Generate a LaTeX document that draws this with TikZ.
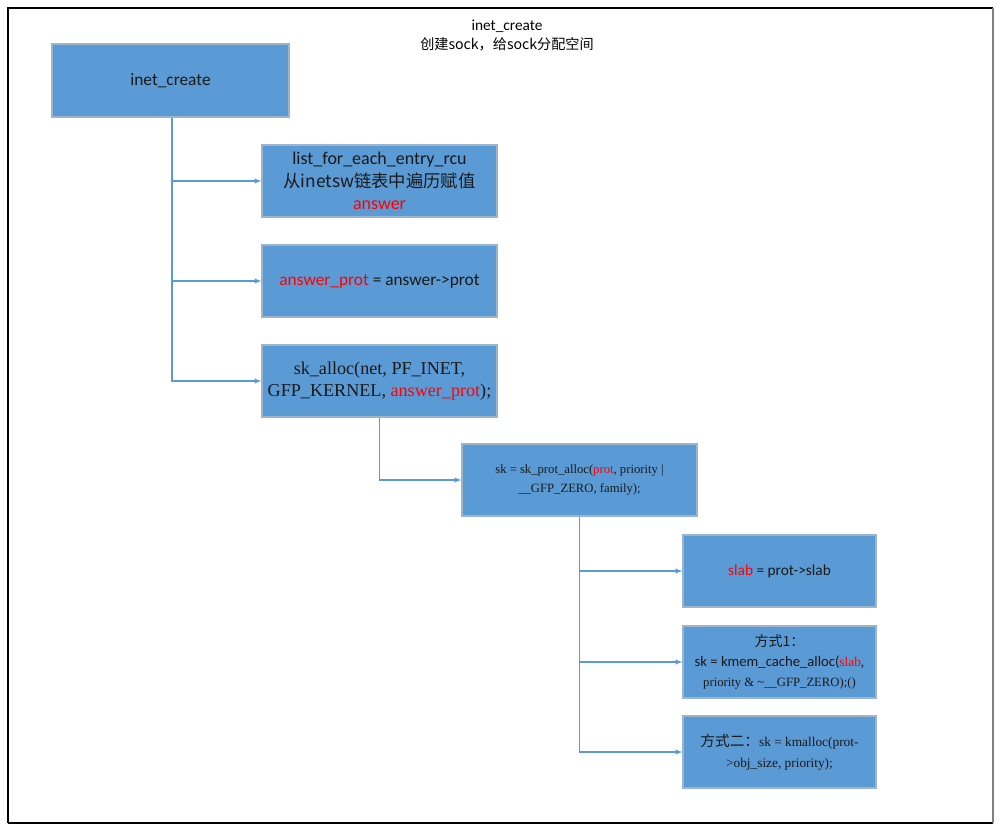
\documentclass[tikz,border=0pt]{standalone}
\usepackage{fontspec}
\setmainfont{Carlito}
\newfontfamily\timesf{Liberation Serif}
\newfontfamily\cjk{Noto Sans CJK SC}
\usetikzlibrary{shadows}
\definecolor{boxblue}{HTML}{5B9BD5}
\definecolor{boxedge}{HTML}{9DB5CC}
\definecolor{linkblue}{HTML}{5B9BD5}
\definecolor{redtext}{HTML}{FF0000}
\tikzset{
    callbox/.style={draw=boxedge, fill=boxblue, line width=0.8pt, align=center,
        inner sep=0pt, text=black!90,
        drop shadow={opacity=0.15, shadow xshift=1pt, shadow yshift=-1pt}},
    link/.style={draw=linkblue, line width=0.8pt, ->},
}
\newcommand{\hl}[1]{\textcolor{redtext}{#1}}
\begin{document}
\begin{tikzpicture}[>=latex, x=0.75pt, y=-0.75pt]
    \useasboundingbox (0,0) rectangle (1004,834);
    % outer frame
    \draw[black, line width=0.8pt] (8,823) -- (8,8) -- (993,8);
    \draw[black, line width=1pt] (8,823) -- (993,823);
    \draw[black!50, line width=1.6pt] (993,8) -- (993,823);
    % title
    \node (title) at (507,35.5) [align=center, font=\fontsize{11.5}{14.5}\selectfont]
        {inet\_create\\{\cjk\fontsize{10.6}{14.5}\selectfont 创建sock，给sock分配空间}};
    % boxes
    \node[callbox, minimum width=237*0.75pt, minimum height=73*0.75pt,
        font=\fontsize{13}{15}\selectfont] (create) at (170.5,80.5) {inet\_create};
    \node[callbox, minimum width=235*0.75pt, minimum height=72*0.75pt,
        font=\fontsize{13.5}{17}\selectfont] (entry) at (379.5,181)
        {list\_for\_each\_entry\_rcu\\{\fontsize{13}{17}\selectfont\cjk 从inetsw链表中遍历赋值}\\\hl{answer}};
    \node[callbox, minimum width=235*0.75pt, minimum height=72*0.75pt,
        font=\fontsize{13}{15}\selectfont] (prot) at (379.5,281)
        {\hl{answer\_prot} = answer->prot};
    \node[callbox, minimum width=235*0.75pt, minimum height=72*0.75pt,
        font=\timesf\fontsize{13.6}{17}\selectfont] (skalloc) at (379.5,381)
        {sk\_alloc(net, PF\_INET,\\GFP\_KERNEL, \hl{answer\_prot});};
    \node[callbox, minimum width=235*0.75pt, minimum height=72*0.75pt,
        font=\timesf\fontsize{9.5}{14}\selectfont] (protalloc) at (579.5,480)
        {sk = sk\_prot\_alloc(\hl{prot}, priority |\\\_\_GFP\_ZERO, family);};
    \node[callbox, minimum width=193*0.75pt, minimum height=72*0.75pt,
        font=\fontsize{11.5}{13}\selectfont] (slab) at (779.5,571)
        {\hl{slab} = prot->slab};
    \node[callbox, minimum width=193*0.75pt, minimum height=72*0.75pt,
        font=\fontsize{11}{15}\selectfont] (cache) at (779.5,662)
        {{\cjk\fontsize{10.5}{15}\selectfont 方式1：}\\sk = kmem\_cache\_alloc({\timesf\fontsize{10}{15}\selectfont\hl{slab},}\\{\timesf\fontsize{9.5}{15}\selectfont priority \& \textasciitilde\_\_GFP\_ZERO);()}};
    \node[callbox, minimum width=193*0.75pt, minimum height=72*0.75pt,
        font=\timesf\fontsize{10}{16}\selectfont] (kmalloc) at (779.5,752)
        {{\cjk\fontsize{11}{16}\selectfont 方式二：}sk = kmalloc(prot-\\>obj\_size, priority);};
    % connectors
    \draw[link] (create.south) ++(1.5,0) coordinate (trunk) |- (entry.west);
    \draw[link] (trunk) |- (prot.west);
    \draw[link] (trunk) |- (skalloc.west);
    \draw[link] (skalloc.south) |- (protalloc.west);
    \draw[link] (protalloc.south) |- (slab.west);
    \draw[link] (protalloc.south) |- (cache.west);
    \draw[link] (protalloc.south) |- (kmalloc.west);
\end{tikzpicture}
\end{document}
